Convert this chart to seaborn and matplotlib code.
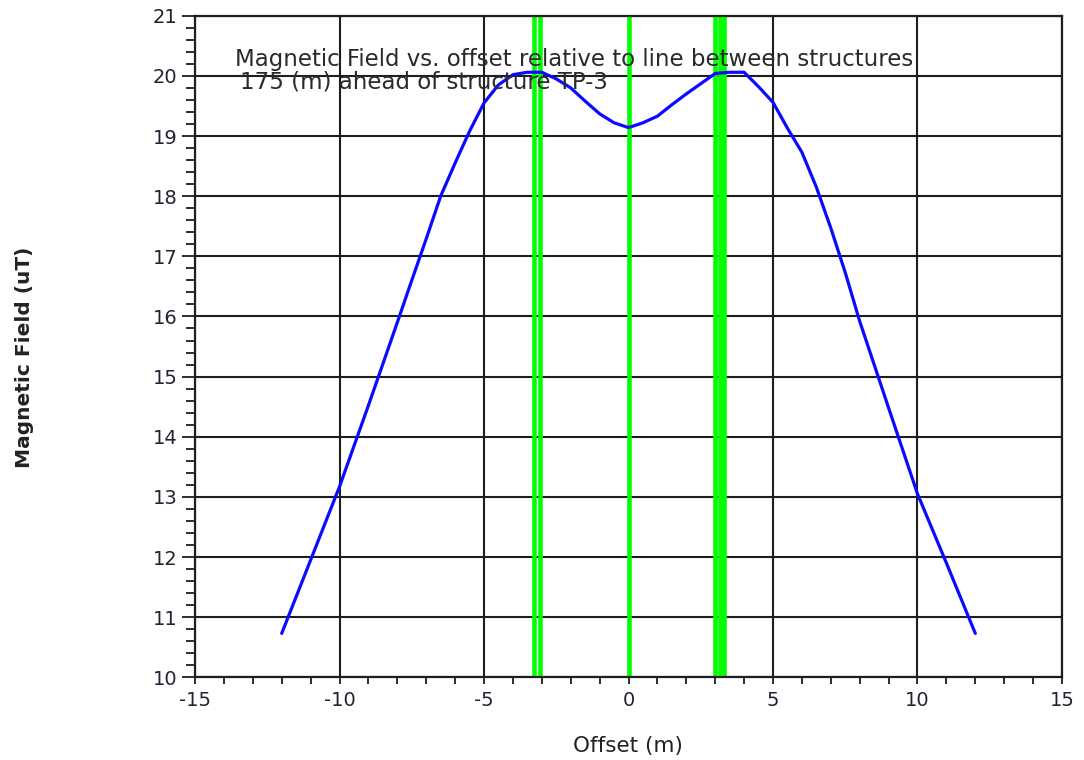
import matplotlib
matplotlib.use("Agg")
import matplotlib.pyplot as plt
from matplotlib.ticker import MultipleLocator
import seaborn as sns
import pandas as pd

# Lateral offset from the line between structures (m) and field magnitude (uT)
offset_m = [-12, -11, -10, -9, -8, -7.5, -7, -6.5, -6, -5.5, -5, -4.5, -4,
            -3.5, -3, -2.5, -2, -1.5, -1, -0.5, 0, 0.5, 1, 1.5, 2, 2.5, 3,
            3.5, 4, 4.5, 5, 5.5, 6, 6.5, 7, 7.5, 8, 9, 10, 11, 12]
field_uT = [10.73, 11.95, 13.17, 14.52, 15.90, 16.60, 17.29, 18.00, 18.55,
            19.08, 19.55, 19.85, 20.02, 20.06, 20.06, 19.95, 19.80, 19.58,
            19.37, 19.22, 19.14, 19.22, 19.33, 19.52, 19.70, 19.87, 20.04,
            20.06, 20.06, 19.82, 19.56, 19.13, 18.73, 18.15, 17.47, 16.73,
            15.92, 14.48, 13.05, 11.90, 10.73]

# Conductor positions marked as vertical lines
conductor_offsets = [-3.28, -3.06, 0.0, 3.0, 3.15, 3.3]

title_lines = ["Magnetic Field vs. offset relative to line between structures",
               "175 (m) ahead of structure TP-3"]
x_label = "Offset (m)"
y_label = "Magnetic Field (uT)"

sns.set_style("ticks")
plt.rcParams["font.family"] = ["DejaVu Sans"]
plt.rcParams["axes.unicode_minus"] = False

df = pd.DataFrame({"offset": offset_m, "field": field_uT})

fig = plt.figure(figsize=(10.84, 7.6), dpi=100)
ax = fig.add_axes([0.1799, 0.1088, 0.7998, 0.8705])

for xc in conductor_offsets:
    ax.axvline(xc, color="#00ff00", lw=3.3, zorder=2.7)

sns.lineplot(data=df, x="offset", y="field", ax=ax, color="#0a0aff",
             lw=2.3, zorder=3, sort=False)

ax.set_xlim(-15, 15)
ax.set_ylim(10, 21)
ax.xaxis.set_major_locator(MultipleLocator(5))
ax.xaxis.set_minor_locator(MultipleLocator(1))
ax.yaxis.set_major_locator(MultipleLocator(1))
ax.yaxis.set_minor_locator(MultipleLocator(0.2))

ax.set_axisbelow(False)
ax.grid(True, which="major", color="#1e1e1e", lw=1.5)

for side in ["top", "right", "bottom", "left"]:
    ax.spines[side].set_visible(True)
    ax.spines[side].set_color("#1e1e1e")
    ax.spines[side].set_linewidth(1.6)
    ax.spines[side].set_zorder(4)

ax.tick_params(axis="x", which="major", direction="out", length=5, width=1.3,
               color="#1e1e1e", labelsize=14, pad=5, labelcolor="#222233")
ax.tick_params(axis="x", which="minor", direction="out", length=5, width=1.3,
               color="#1e1e1e")
ax.tick_params(axis="y", which="major", direction="out", length=9.5, width=1.3,
               color="#1e1e1e", labelsize=14, pad=3, labelcolor="#222233")
ax.tick_params(axis="y", which="minor", direction="out", length=6.5, width=1.3,
               color="#1e1e1e")

ax.set_xlabel(x_label, fontsize=15.5, color="#222222")
ax.xaxis.set_label_coords(0.4994, -0.088)
ax.set_ylabel(y_label, fontsize=14.5, fontweight="bold", color="#222222")
ax.yaxis.set_label_coords(-0.186, 0.483)

ax.text(0.0465, 0.9244, title_lines[0], transform=ax.transAxes, fontsize=16.5,
        color="#2a2a2a", va="baseline", ha="left", zorder=5)
ax.text(0.0519, 0.8903, title_lines[1], transform=ax.transAxes, fontsize=16.5,
        color="#2a2a2a", va="baseline", ha="left", zorder=5)

fig.savefig("out.png", dpi=100)
